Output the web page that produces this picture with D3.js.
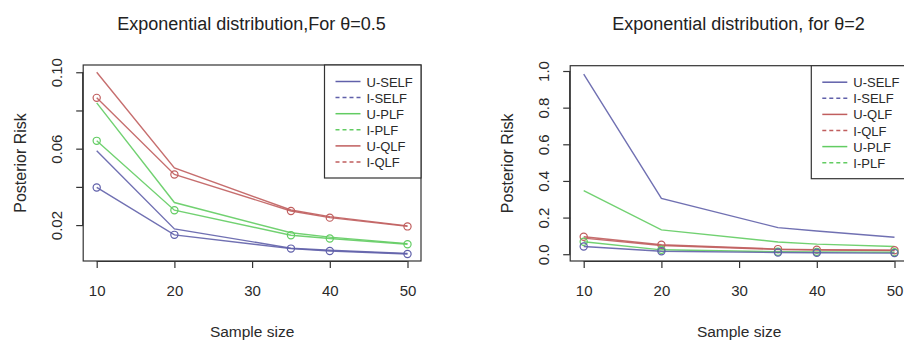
<!DOCTYPE html>
<html>
<head>
<meta charset="utf-8">
<script src="https://cdn.jsdelivr.net/npm/d3@7"></script>
<style>
  body { margin: 0; background: #fff; }
  svg { display: block; font-family: "Liberation Sans", Arial, sans-serif; }
</style>
</head>
<body>
<div id="chart"></div>
<script>
// sample sizes on the x axis
const sampleSizes = [10, 20, 35, 40, 50];
const xTicks = [10, 20, 30, 40, 50];

// theta = 0.5 panel
const leftNames = ['U-SELF', 'I-SELF', 'U-PLF', 'I-PLF', 'U-QLF', 'I-QLF'];
const leftUSELF = [0.0589, 0.0180, 0.0079, 0.0068, 0.0051];
const leftISELF = [0.0397, 0.0149, 0.0077, 0.0064, 0.0049];
const leftUPLF = [0.0840, 0.0318, 0.0160, 0.0137, 0.0103];
const leftIPLF = [0.0641, 0.0278, 0.0147, 0.0130, 0.0100];
const leftUQLF = [0.1000, 0.0499, 0.0279, 0.0244, 0.0196];
const leftIQLF = [0.0866, 0.0465, 0.0274, 0.0239, 0.0193];
const leftTicks = [0.02, 0.04, 0.06, 0.08, 0.10];
const leftTickLabels = ['0.02', '', '0.06', '', '0.10'];

// theta = 2 panel
const rightNames = ['U-SELF', 'I-SELF', 'U-QLF', 'I-QLF', 'U-PLF', 'I-PLF'];
const rightUSELF = [0.983, 0.305, 0.145, 0.127, 0.093];
const rightISELF = [0.042, 0.016, 0.009, 0.008, 0.006];
const rightUQLF = [0.095, 0.052, 0.028, 0.025, 0.022];
const rightIQLF = [0.088, 0.048, 0.026, 0.023, 0.020];
const rightUPLF = [0.347, 0.133, 0.067, 0.055, 0.042];
const rightIPLF = [0.068, 0.024, 0.014, 0.013, 0.011];
const rightTicks = [0, 0.2, 0.4, 0.6, 0.8, 1.0];
const rightTickLabels = ['0.0', '0.2', '0.4', '0.6', '0.8', '1.0'];

const colorOf = {
    SELF: '#6060aa',
    PLF: '#62cc62',
    QLF: '#c05e5e'
};

const svg = d3.select('#chart')
    .append('svg')
    .attr('width', 904)
    .attr('height', 340);

function panel(cfg) {
    const g = svg.append('g');
    const x = d3.scaleLinear()
        .domain([10, 50])
        .range([cfg.x10, cfg.x10 + 4 * 77.7]);
    const y = d3.scaleLinear()
        .domain(cfg.yDomain)
        .range([cfg.bottom, cfg.top]);

    const boxL = cfg.x10 - 13.5;
    const boxR = x(50) + 13.5;
    g.append('rect')
        .attr('x', boxL)
        .attr('y', cfg.top)
        .attr('width', boxR - boxL)
        .attr('height', cfg.bottom - cfg.top)
        .style('fill', 'none')
        .style('stroke', '#333')
        .style('stroke-width', 1.2);

    // x axis
    const xa = g.append('g')
        .attr('transform', `translate(0,${cfg.bottom})`)
        .call(d3.axisBottom(x).tickValues(xTicks).tickSize(7).tickPadding(17.5).tickFormat(d3.format('d')));
    xa.select('.domain').attr('d', `M${x(10)},0.5H${x(50)}`).style('stroke', '#333').style('stroke-width', 1.2);
    xa.selectAll('line').style('stroke', '#333').style('stroke-width', 1.2);
    xa.selectAll('text').style('font-size', '15px').style('fill', '#2a2a2a');

    // y axis, labels turned like R's las=0
    const ya = g.append('g')
        .attr('transform', `translate(${boxL},0)`)
        .call(d3.axisLeft(y).tickValues(cfg.yTicks).tickSize(7).tickFormat((d, i) => cfg.yLabels[i]));
    ya.select('.domain')
        .attr('d', `M-0.5,${y(cfg.yTicks[0])}V${y(cfg.yTicks[cfg.yTicks.length - 1])}`)
        .style('stroke', '#333').style('stroke-width', 1.2);
    ya.selectAll('line').style('stroke', '#333').style('stroke-width', 1.2);
    ya.selectAll('text')
        .attr('x', null).attr('dy', null)
        .attr('text-anchor', 'middle')
        .attr('transform', 'translate(-21.5,0) rotate(-90)')
        .style('font-size', '15px')
        .style('fill', '#2a2a2a');

    // series
    const line = d3.line()
        .x((d, i) => x(sampleSizes[i]))
        .y(d => y(d));
    cfg.series.forEach(s => {
        g.append('path')
            .attr('d', line(s.values))
            .style('fill', 'none')
            .style('stroke', colorOf[s.kind])
            .style('stroke-width', 1.4)
            .style('opacity', 0.9);
        if (s.points) {
            g.selectAll(null)
                .data(s.values)
                .enter()
                .append('circle')
                .attr('cx', (d, i) => x(sampleSizes[i]))
                .attr('cy', d => y(d))
                .attr('r', 3.6)
                .style('fill', 'none')
                .style('stroke', colorOf[s.kind])
                .style('stroke-width', 1.2);
        }
    });

    // legend
    const lg = g.append('g');
    lg.append('rect')
        .attr('x', cfg.legX)
        .attr('y', cfg.top)
        .attr('width', boxR - cfg.legX)
        .attr('height', 113)
        .style('fill', '#fff')
        .style('stroke', '#333')
        .style('stroke-width', 1.2);
    cfg.names.forEach((n, i) => {
        const yy = cfg.top + 16.5 + i * 16.1;
        const kind = n.split('-')[1];
        lg.append('line')
            .attr('x1', cfg.legX + 11)
            .attr('x2', cfg.legX + 36)
            .attr('y1', yy)
            .attr('y2', yy)
            .style('stroke', colorOf[kind])
            .style('stroke-width', 1.5)
            .style('stroke-dasharray', n[0] === 'I' ? '4,3' : null);
        lg.append('text')
            .attr('x', cfg.legX + 42)
            .attr('y', yy + 5)
            .style('font-size', '13px')
            .style('fill', '#2a2a2a')
            .text(n);
    });

    // titles
    g.append('text')
        .attr('x', cfg.titleX)
        .attr('y', 30)
        .attr('text-anchor', 'middle')
        .style('font-size', '18px')
        .style('fill', '#222')
        .text(cfg.title);
    g.append('text')
        .attr('x', (boxL + boxR) / 2)
        .attr('y', 337)
        .attr('text-anchor', 'middle')
        .style('font-size', '15.5px')
        .style('fill', '#2a2a2a')
        .text('Sample size');
    g.append('text')
        .attr('transform', `translate(${cfg.yLabelX},${(cfg.top + cfg.bottom) / 2}) rotate(-90)`)
        .attr('text-anchor', 'middle')
        .style('font-size', '16px')
        .style('fill', '#2a2a2a')
        .text('Posterior Risk');
}

panel({
    x10: 96.7,
    top: 65,
    bottom: 261,
    yDomain: [0.0012, 0.1038],
    yTicks: leftTicks,
    yLabels: leftTickLabels,
    legX: 324.5,
    titleX: 251.5,
    yLabelX: 26,
    title: 'Exponential distribution,For θ=0.5',
    names: leftNames,
    series: [
        { kind: 'SELF', values: leftUSELF, points: false },
        { kind: 'SELF', values: leftISELF, points: true },
        { kind: 'PLF', values: leftUPLF, points: false },
        { kind: 'PLF', values: leftIPLF, points: true },
        { kind: 'QLF', values: leftUQLF, points: false },
        { kind: 'QLF', values: leftIQLF, points: true }
    ]
});

panel({
    x10: 583.7,
    top: 65.7,
    bottom: 261,
    yDomain: [-0.037, 1.029],
    yTicks: rightTicks,
    yLabels: rightTickLabels,
    legX: 811.3,
    titleX: 738.5,
    yLabelX: 512.5,
    title: 'Exponential distribution, for θ=2',
    names: rightNames,
    series: [
        { kind: 'SELF', values: rightUSELF, points: false },
        { kind: 'PLF', values: rightUPLF, points: false },
        { kind: 'QLF', values: rightUQLF, points: true },
        { kind: 'QLF', values: rightIQLF, points: false },
        { kind: 'PLF', values: rightIPLF, points: true },
        { kind: 'SELF', values: rightISELF, points: true }
    ]
});
</script>
</body>
</html>
